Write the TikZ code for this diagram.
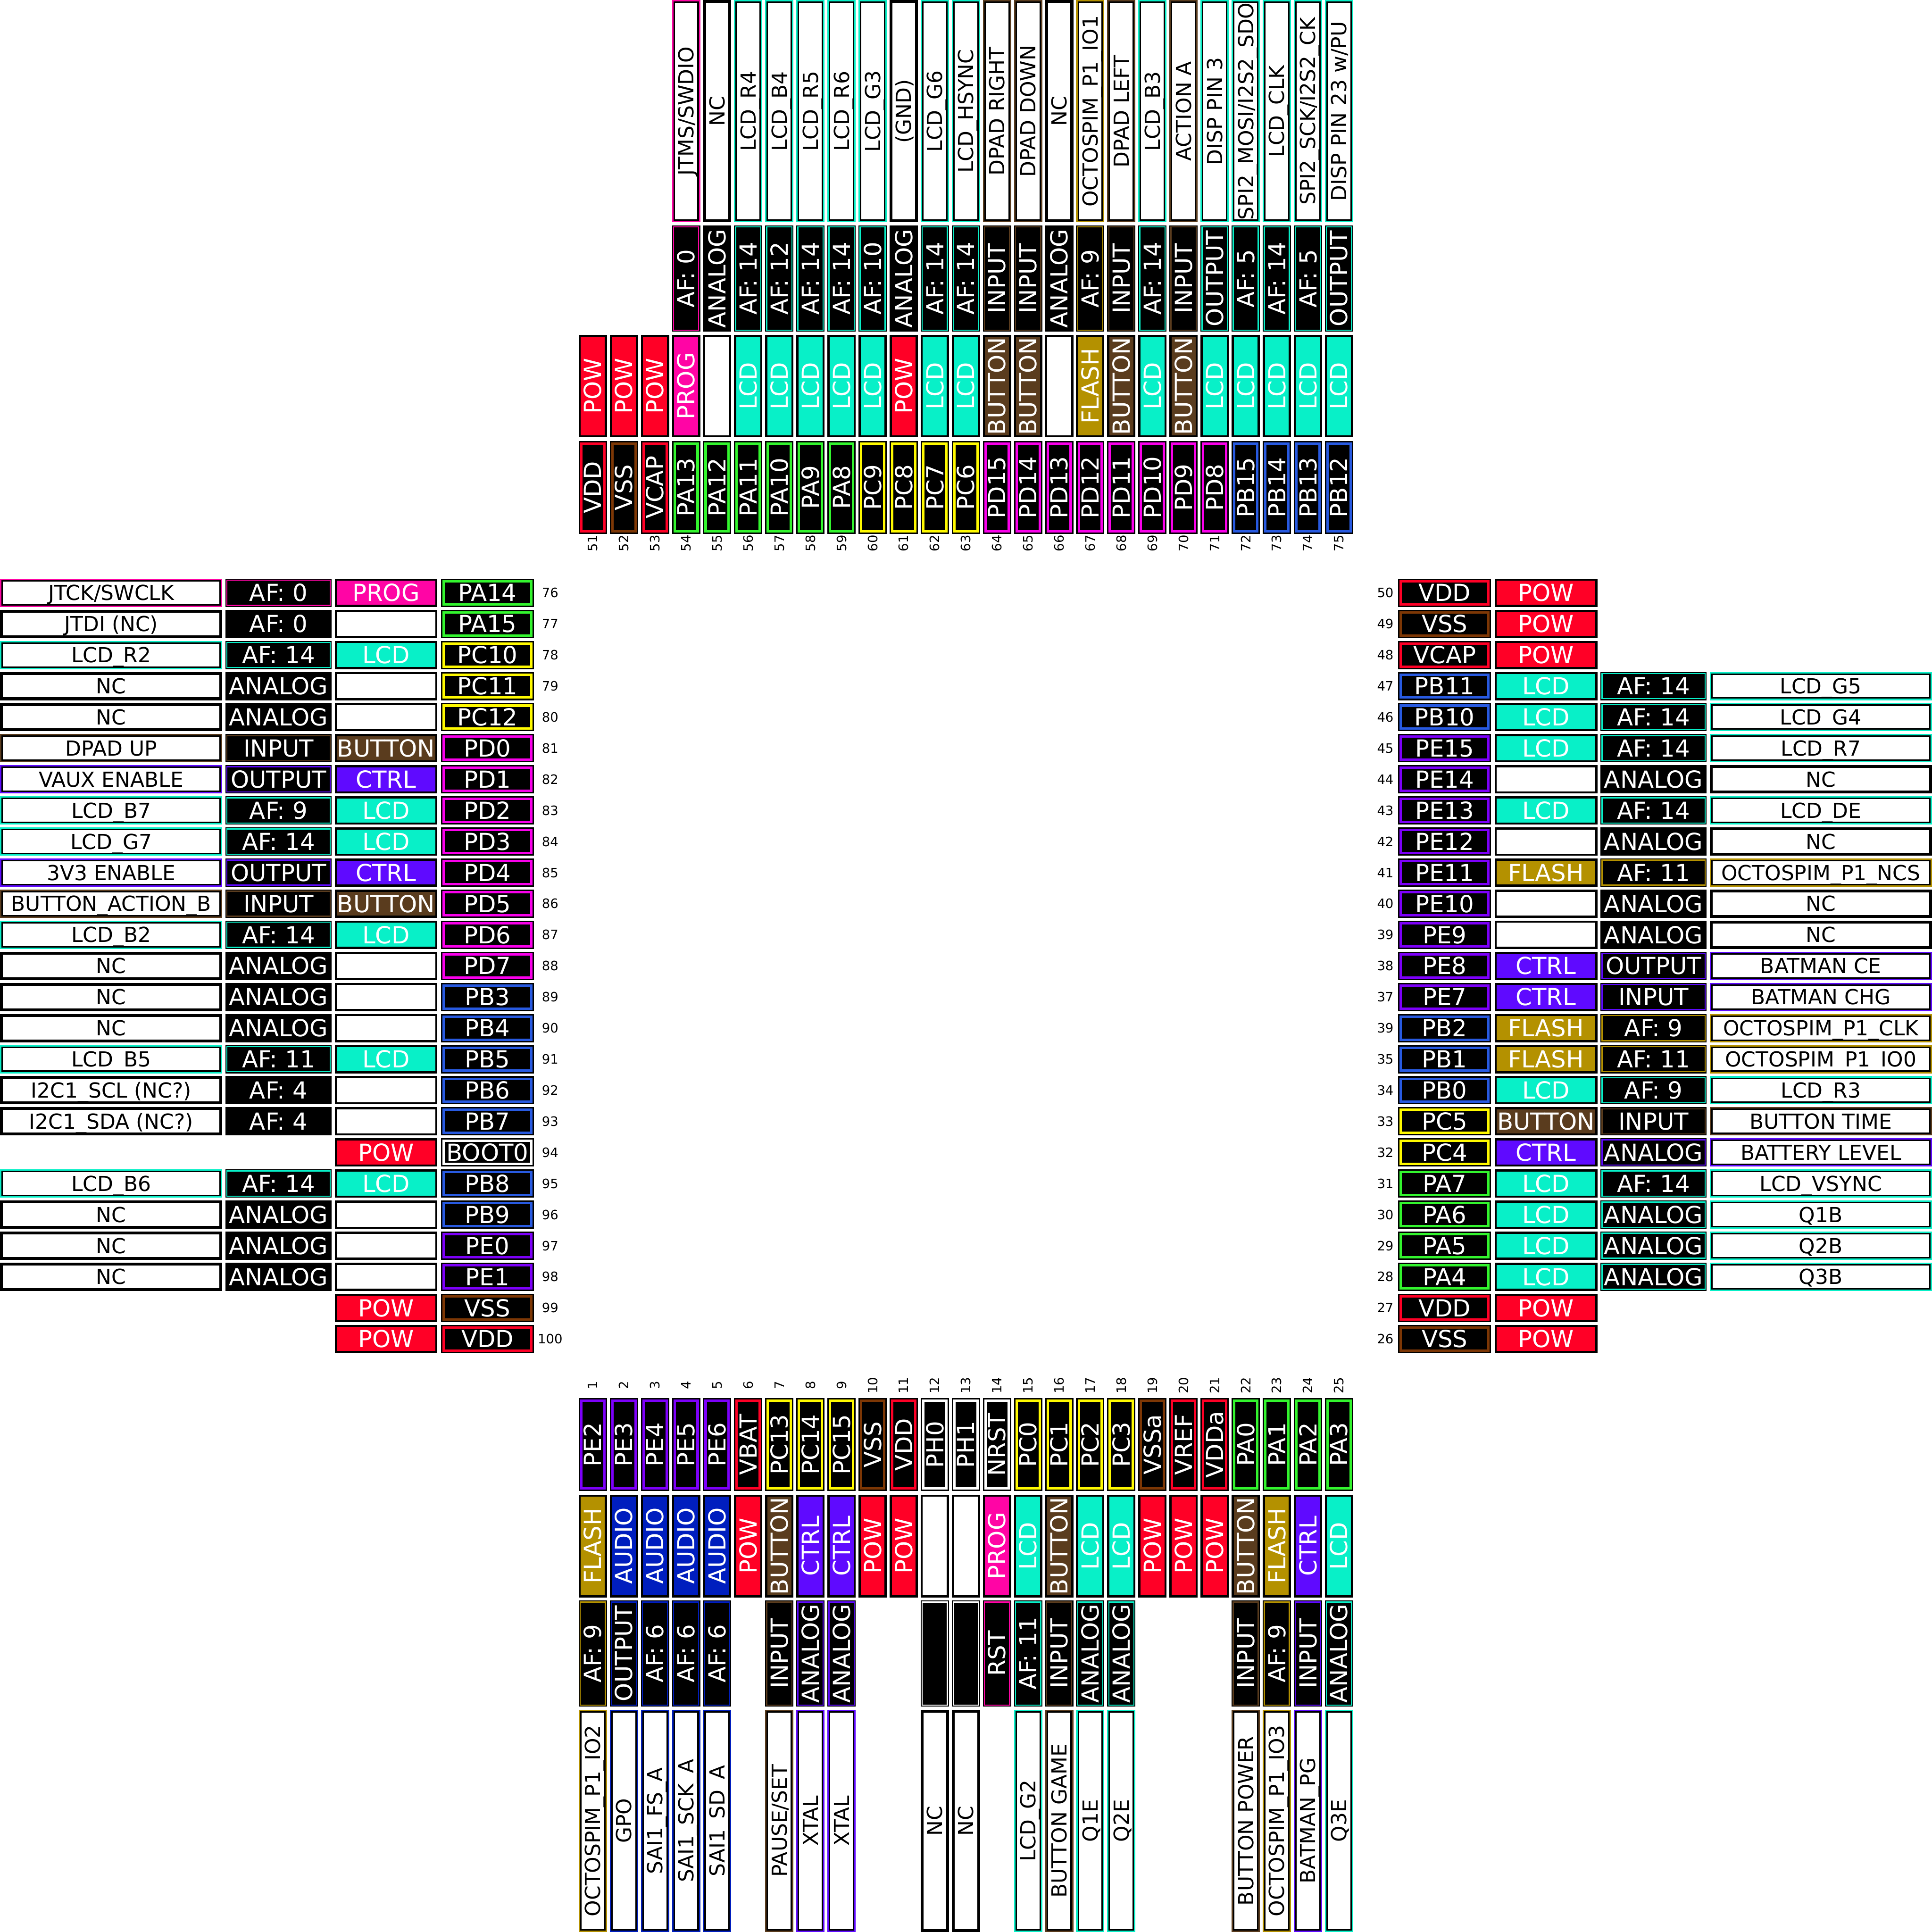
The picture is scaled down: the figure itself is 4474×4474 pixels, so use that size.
\documentclass[tikz,border=0pt]{standalone}
\usepackage{fontspec}
\setmainfont{DejaVu Sans}
\definecolor{cpa}{RGB}{51,245,46}
\definecolor{cpc}{RGB}{255,250,0}
\definecolor{cpd}{RGB}{250,0,235}
\definecolor{cpb}{RGB}{40,90,225}
\definecolor{cpe}{RGB}{125,0,250}
\definecolor{cpow}{RGB}{255,0,38}
\definecolor{cvss}{RGB}{125,55,5}
\definecolor{cprog}{RGB}{255,5,165}
\definecolor{clcd}{RGB}{8,240,200}
\definecolor{cbtn}{RGB}{90,60,30}
\definecolor{cctrl}{RGB}{95,10,255}
\definecolor{cflash}{RGB}{180,145,0}
\definecolor{caudio}{RGB}{0,30,190}
\tikzset{
  wtxt/.style={text=white,inner sep=0pt,font=\fontsize{13.6pt}{14pt}\selectfont,text height=9.9pt,text depth=0pt},
  dtxt/.style={text=black,inner sep=0pt,font=\fontsize{12pt}{13pt}\selectfont,text height=8.75pt,text depth=0pt},
  ntxt/.style={text=black,inner sep=0pt,font=\fontsize{7.5pt}{8pt}\selectfont,text height=5.47pt,text depth=0pt},
}
\def\nonemark{-}
\def\blankmark{.}
\newcommand\setrect[4]{%
  \pgfmathsetmacro\oo{1340+72*#2}%
  \pgfmathsetmacro\ooe{\oo+65.5}%
  \ifcase#1\relax
    \def\xa{#3}\def\xb{#4}\let\ya\oo\let\yb\ooe
  \or
    \let\xa\oo\let\xb\ooe\def\ya{#3}\def\yb{#4}%
  \or
    \pgfmathsetmacro\xa{4474-(#4)}\pgfmathsetmacro\xb{4474-(#3)}\let\ya\oo\let\yb\ooe
  \or
    \let\xa\oo\let\xb\ooe\pgfmathsetmacro\ya{4474-(#4)}\pgfmathsetmacro\yb{4474-(#3)}%
  \fi
  \pgfmathsetmacro\xc{(\xa+\xb)/2}%
  \pgfmathsetmacro\yc{(\ya+\yb)/2}%
  \ifodd#1\relax\def\rot{90}\else\def\rot{0}\fi
}
\newcommand\inset[2]{\fill[#1] (\xa+#2,\ya+#2) rectangle (\xb-#2,\yb-#2);}
\newcommand\PinA[5]{%
  \xdef\sd{#1}\xdef\ix{#2}%
  \setrect{#1}{#2}{1021}{1236.5}%
  \inset{black}{0}\inset{#5}{3.3}\inset{black}{8.8}%
  \node[wtxt,rotate=\rot] (pin-#1-#2) at (\xc,\yc) {#4};%
  \ifcase#1\relax
    \node[ntxt] (num-#1-#2) at (1274,\yc) {#3};%
  \or
    \node[ntxt,rotate=90] (num-#1-#2) at (\xc,1258) {#3};%
  \or
    \node[ntxt] (num-#1-#2) at (3208,\yc) {#3};%
  \or
    \node[ntxt,rotate=90] (num-#1-#2) at (\xc,3208) {#3};%
  \fi
}
\newcommand\PinB[6][]{%
  \def\tmp{#2}%
  \ifx\tmp\nonemark\else
    \setrect{\sd}{\ix}{775}{1013}%
    \inset{black}{0}\inset{#3}{5}%
    \node[wtxt,rotate=\rot] (type-\sd-\ix) at (\xc,\yc) {#2};%
  \fi
  \def\tmp{#4}%
  \ifx\tmp\nonemark\else
    \setrect{\sd}{\ix}{522}{768}%
    \inset{black}{0}\inset{#5}{2.3}\inset{black}{5}%
    \ifx\tmp\blankmark\else
      \node[wtxt,rotate=\rot] (mode-\sd-\ix) at (\xc,\yc) {#4};%
    \fi
  \fi
  \def\tmp{#6}%
  \ifx\tmp\nonemark\else
    \def\dc{#1}\ifx\dc\empty\def\dc{#5}\fi
    \setrect{\sd}{\ix}{0}{515}%
    \inset{\dc}{0}\inset{black}{3.3}\inset{white}{6.6}%
    \node[dtxt,rotate=\rot] (desc-\sd-\ix) at (\xc,\yc) {#6};%
  \fi
}
\begin{document}
\begin{tikzpicture}[x=0.25pt,y=-0.25pt]
\fill[white] (0,0) rectangle (4474,4474);
\useasboundingbox (0,0) rectangle (4474,4474);
% LEFT
\PinA{0}{0}{76}{PA14}{cpa}\PinB{PROG}{cprog}{AF: 0}{cprog}{JTCK/SWCLK}
\PinA{0}{1}{77}{PA15}{cpa}\PinB{}{white}{AF: 0}{black}{JTDI (NC)}
\PinA{0}{2}{78}{PC10}{cpc}\PinB{LCD}{clcd}{AF: 14}{clcd}{LCD\_R2}
\PinA{0}{3}{79}{PC11}{cpc}\PinB{}{white}{ANALOG}{black}{NC}
\PinA{0}{4}{80}{PC12}{cpc}\PinB{}{white}{ANALOG}{black}{NC}
\PinA{0}{5}{81}{PD0}{cpd}\PinB{BUTTON}{cbtn}{INPUT}{cbtn}{DPAD UP}
\PinA{0}{6}{82}{PD1}{cpd}\PinB{CTRL}{cctrl}{OUTPUT}{cctrl}{VAUX ENABLE}
\PinA{0}{7}{83}{PD2}{cpd}\PinB{LCD}{clcd}{AF: 9}{clcd}{LCD\_B7}
\PinA{0}{8}{84}{PD3}{cpd}\PinB{LCD}{clcd}{AF: 14}{clcd}{LCD\_G7}
\PinA{0}{9}{85}{PD4}{cpd}\PinB{CTRL}{cctrl}{OUTPUT}{cctrl}{3V3 ENABLE}
\PinA{0}{10}{86}{PD5}{cpd}\PinB{BUTTON}{cbtn}{INPUT}{cbtn}{BUTTON\_ACTION\_B}
\PinA{0}{11}{87}{PD6}{cpd}\PinB{LCD}{clcd}{AF: 14}{clcd}{LCD\_B2}
\PinA{0}{12}{88}{PD7}{cpd}\PinB{}{white}{ANALOG}{black}{NC}
\PinA{0}{13}{89}{PB3}{cpb}\PinB{}{white}{ANALOG}{black}{NC}
\PinA{0}{14}{90}{PB4}{cpb}\PinB{}{white}{ANALOG}{black}{NC}
\PinA{0}{15}{91}{PB5}{cpb}\PinB{LCD}{clcd}{AF: 11}{clcd}{LCD\_B5}
\PinA{0}{16}{92}{PB6}{cpb}\PinB{}{white}{AF: 4}{black}{I2C1\_SCL (NC?)}
\PinA{0}{17}{93}{PB7}{cpb}\PinB{}{white}{AF: 4}{black}{I2C1\_SDA (NC?)}
\PinA{0}{18}{94}{BOOT0}{white}\PinB{POW}{cpow}{-}{black}{-}
\PinA{0}{19}{95}{PB8}{cpb}\PinB{LCD}{clcd}{AF: 14}{clcd}{LCD\_B6}
\PinA{0}{20}{96}{PB9}{cpb}\PinB{}{white}{ANALOG}{black}{NC}
\PinA{0}{21}{97}{PE0}{cpe}\PinB{}{white}{ANALOG}{black}{NC}
\PinA{0}{22}{98}{PE1}{cpe}\PinB{}{white}{ANALOG}{black}{NC}
\PinA{0}{23}{99}{VSS}{cvss}\PinB{POW}{cpow}{-}{black}{-}
\PinA{0}{24}{100}{VDD}{cpow}\PinB{POW}{cpow}{-}{black}{-}
% TOP
\PinA{1}{0}{51}{VDD}{cpow}\PinB{POW}{cpow}{-}{black}{-}
\PinA{1}{1}{52}{VSS}{cvss}\PinB{POW}{cpow}{-}{black}{-}
\PinA{1}{2}{53}{VCAP}{cpow}\PinB{POW}{cpow}{-}{black}{-}
\PinA{1}{3}{54}{PA13}{cpa}\PinB{PROG}{cprog}{AF: 0}{cprog}{JTMS/SWDIO}
\PinA{1}{4}{55}{PA12}{cpa}\PinB{}{white}{ANALOG}{black}{NC}
\PinA{1}{5}{56}{PA11}{cpa}\PinB{LCD}{clcd}{AF: 14}{clcd}{LCD\_R4}
\PinA{1}{6}{57}{PA10}{cpa}\PinB{LCD}{clcd}{AF: 12}{clcd}{LCD\_B4}
\PinA{1}{7}{58}{PA9}{cpa}\PinB{LCD}{clcd}{AF: 14}{clcd}{LCD\_R5}
\PinA{1}{8}{59}{PA8}{cpa}\PinB{LCD}{clcd}{AF: 14}{clcd}{LCD\_R6}
\PinA{1}{9}{60}{PC9}{cpc}\PinB{LCD}{clcd}{AF: 10}{clcd}{LCD\_G3}
\PinA{1}{10}{61}{PC8}{cpc}\PinB{POW}{cpow}{ANALOG}{black}{(GND)}
\PinA{1}{11}{62}{PC7}{cpc}\PinB{LCD}{clcd}{AF: 14}{clcd}{LCD\_G6}
\PinA{1}{12}{63}{PC6}{cpc}\PinB{LCD}{clcd}{AF: 14}{clcd}{LCD\_HSYNC}
\PinA{1}{13}{64}{PD15}{cpd}\PinB{BUTTON}{cbtn}{INPUT}{cbtn}{DPAD RIGHT}
\PinA{1}{14}{65}{PD14}{cpd}\PinB{BUTTON}{cbtn}{INPUT}{cbtn}{DPAD DOWN}
\PinA{1}{15}{66}{PD13}{cpd}\PinB{}{white}{ANALOG}{black}{NC}
\PinA{1}{16}{67}{PD12}{cpd}\PinB{FLASH}{cflash}{AF: 9}{cflash}{OCTOSPIM\_P1\_IO1}
\PinA{1}{17}{68}{PD11}{cpd}\PinB{BUTTON}{cbtn}{INPUT}{cbtn}{DPAD LEFT}
\PinA{1}{18}{69}{PD10}{cpd}\PinB{LCD}{clcd}{AF: 14}{clcd}{LCD\_B3}
\PinA{1}{19}{70}{PD9}{cpd}\PinB{BUTTON}{cbtn}{INPUT}{cbtn}{ACTION A}
\PinA{1}{20}{71}{PD8}{cpd}\PinB{LCD}{clcd}{OUTPUT}{clcd}{DISP PIN 3}
\PinA{1}{21}{72}{PB15}{cpb}\PinB{LCD}{clcd}{AF: 5}{clcd}{SPI2\_MOSI/I2S2\_SDO}
\PinA{1}{22}{73}{PB14}{cpb}\PinB{LCD}{clcd}{AF: 14}{clcd}{LCD\_CLK}
\PinA{1}{23}{74}{PB13}{cpb}\PinB{LCD}{clcd}{AF: 5}{clcd}{SPI2\_SCK/I2S2\_CK}
\PinA{1}{24}{75}{PB12}{cpb}\PinB{LCD}{clcd}{OUTPUT}{clcd}{DISP PIN 23 w/PU}
% RIGHT
\PinA{2}{0}{50}{VDD}{cpow}\PinB{POW}{cpow}{-}{black}{-}
\PinA{2}{1}{49}{VSS}{cvss}\PinB{POW}{cpow}{-}{black}{-}
\PinA{2}{2}{48}{VCAP}{cpow}\PinB{POW}{cpow}{-}{black}{-}
\PinA{2}{3}{47}{PB11}{cpb}\PinB{LCD}{clcd}{AF: 14}{clcd}{LCD\_G5}
\PinA{2}{4}{46}{PB10}{cpb}\PinB{LCD}{clcd}{AF: 14}{clcd}{LCD\_G4}
\PinA{2}{5}{45}{PE15}{cpe}\PinB{LCD}{clcd}{AF: 14}{clcd}{LCD\_R7}
\PinA{2}{6}{44}{PE14}{cpe}\PinB{}{white}{ANALOG}{black}{NC}
\PinA{2}{7}{43}{PE13}{cpe}\PinB{LCD}{clcd}{AF: 14}{clcd}{LCD\_DE}
\PinA{2}{8}{42}{PE12}{cpe}\PinB{}{white}{ANALOG}{black}{NC}
\PinA{2}{9}{41}{PE11}{cpe}\PinB{FLASH}{cflash}{AF: 11}{cflash}{OCTOSPIM\_P1\_NCS}
\PinA{2}{10}{40}{PE10}{cpe}\PinB{}{white}{ANALOG}{black}{NC}
\PinA{2}{11}{39}{PE9}{cpe}\PinB{}{white}{ANALOG}{black}{NC}
\PinA{2}{12}{38}{PE8}{cpe}\PinB{CTRL}{cctrl}{OUTPUT}{cctrl}{BATMAN CE}
\PinA{2}{13}{37}{PE7}{cpe}\PinB{CTRL}{cctrl}{INPUT}{cctrl}{BATMAN CHG}
\PinA{2}{14}{39}{PB2}{cpb}\PinB{FLASH}{cflash}{AF: 9}{cflash}{OCTOSPIM\_P1\_CLK}
\PinA{2}{15}{35}{PB1}{cpb}\PinB{FLASH}{cflash}{AF: 11}{cflash}{OCTOSPIM\_P1\_IO0}
\PinA{2}{16}{34}{PB0}{cpb}\PinB{LCD}{clcd}{AF: 9}{clcd}{LCD\_R3}
\PinA{2}{17}{33}{PC5}{cpc}\PinB{BUTTON}{cbtn}{INPUT}{cbtn}{BUTTON TIME}
\PinA{2}{18}{32}{PC4}{cpc}\PinB{CTRL}{cctrl}{ANALOG}{cctrl}{BATTERY LEVEL}
\PinA{2}{19}{31}{PA7}{cpa}\PinB{LCD}{clcd}{AF: 14}{clcd}{LCD\_VSYNC}
\PinA{2}{20}{30}{PA6}{cpa}\PinB{LCD}{clcd}{ANALOG}{clcd}{Q1B}
\PinA{2}{21}{29}{PA5}{cpa}\PinB{LCD}{clcd}{ANALOG}{clcd}{Q2B}
\PinA{2}{22}{28}{PA4}{cpa}\PinB{LCD}{clcd}{ANALOG}{clcd}{Q3B}
\PinA{2}{23}{27}{VDD}{cpow}\PinB{POW}{cpow}{-}{black}{-}
\PinA{2}{24}{26}{VSS}{cvss}\PinB{POW}{cpow}{-}{black}{-}
% BOTTOM
\PinA{3}{0}{1}{PE2}{cpe}\PinB{FLASH}{cflash}{AF: 9}{cflash}{OCTOSPIM\_P1\_IO2}
\PinA{3}{1}{2}{PE3}{cpe}\PinB{AUDIO}{caudio}{OUTPUT}{caudio}{GPO}
\PinA{3}{2}{3}{PE4}{cpe}\PinB{AUDIO}{caudio}{AF: 6}{caudio}{SAI1\_FS\_A}
\PinA{3}{3}{4}{PE5}{cpe}\PinB{AUDIO}{caudio}{AF: 6}{caudio}{SAI1\_SCK\_A}
\PinA{3}{4}{5}{PE6}{cpe}\PinB{AUDIO}{caudio}{AF: 6}{caudio}{SAI1\_SD\_A}
\PinA{3}{5}{6}{VBAT}{cpow}\PinB{POW}{cpow}{-}{black}{-}
\PinA{3}{6}{7}{PC13}{cpc}\PinB{BUTTON}{cbtn}{INPUT}{cbtn}{PAUSE/SET}
\PinA{3}{7}{8}{PC14}{cpc}\PinB{CTRL}{cctrl}{ANALOG}{cctrl}{XTAL}
\PinA{3}{8}{9}{PC15}{cpc}\PinB{CTRL}{cctrl}{ANALOG}{cctrl}{XTAL}
\PinA{3}{9}{10}{VSS}{cvss}\PinB{POW}{cpow}{-}{black}{-}
\PinA{3}{10}{11}{VDD}{cpow}\PinB{POW}{cpow}{-}{black}{-}
\PinA{3}{11}{12}{PH0}{white}\PinB[black]{}{white}{.}{white}{NC}
\PinA{3}{12}{13}{PH1}{white}\PinB[black]{}{white}{.}{white}{NC}
\PinA{3}{13}{14}{NRST}{white}\PinB{PROG}{cprog}{RST}{cprog}{-}
\PinA{3}{14}{15}{PC0}{cpc}\PinB{LCD}{clcd}{AF: 11}{clcd}{LCD\_G2}
\PinA{3}{15}{16}{PC1}{cpc}\PinB{BUTTON}{cbtn}{INPUT}{cbtn}{BUTTON GAME}
\PinA{3}{16}{17}{PC2}{cpc}\PinB{LCD}{clcd}{ANALOG}{clcd}{Q1E}
\PinA{3}{17}{18}{PC3}{cpc}\PinB{LCD}{clcd}{ANALOG}{clcd}{Q2E}
\PinA{3}{18}{19}{VSSa}{cvss}\PinB{POW}{cpow}{-}{black}{-}
\PinA{3}{19}{20}{VREF}{cpow}\PinB{POW}{cpow}{-}{black}{-}
\PinA{3}{20}{21}{VDDa}{cpow}\PinB{POW}{cpow}{-}{black}{-}
\PinA{3}{21}{22}{PA0}{cpa}\PinB{BUTTON}{cbtn}{INPUT}{cbtn}{BUTTON POWER}
\PinA{3}{22}{23}{PA1}{cpa}\PinB{FLASH}{cflash}{AF: 9}{cflash}{OCTOSPIM\_P1\_IO3}
\PinA{3}{23}{24}{PA2}{cpa}\PinB{CTRL}{cctrl}{INPUT}{cctrl}{BATMAN\_PG}
\PinA{3}{24}{25}{PA3}{cpa}\PinB{LCD}{clcd}{ANALOG}{clcd}{Q3E}
\end{tikzpicture}
\end{document}
